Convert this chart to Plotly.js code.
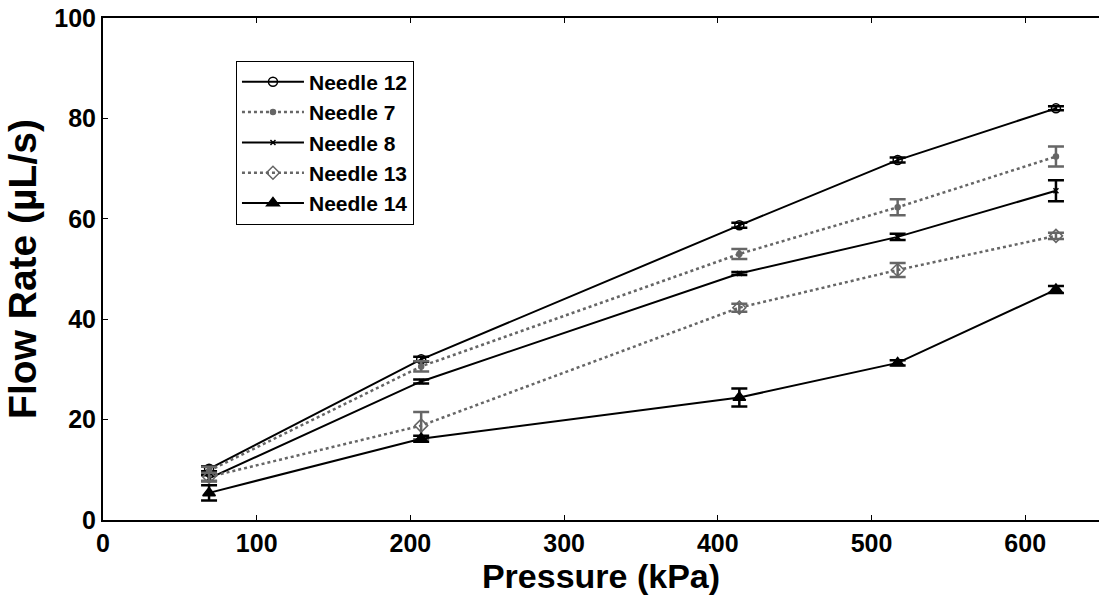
<!DOCTYPE html>
<html>
<head>
<meta charset="utf-8">
<script src="https://cdn.plot.ly/plotly-3.0.1.min.js"></script>
<style>html,body{margin:0;padding:0;background:#fff;}#chart{width:1099px;height:599px;}</style>
</head>
<body>
<div id="chart"></div>
<script>
const pressure = [69, 207, 414, 517, 620];
const needle12 = [10.2, 32.0, 58.7, 71.7, 82.0];
const needle12Err = [0.5, 0.5, 0.5, 0.5, 0.4];
const needle7 = [9.8, 30.6, 53.0, 62.3, 72.4];
const needle7Err = [0.8, 1.0, 1.0, 1.6, 2.0];
const needle8 = [8.3, 27.6, 49.1, 56.4, 65.6];
const needle8Err = [0.6, 0.4, 0.3, 0.6, 2.1];
const needle13 = [8.6, 18.8, 42.3, 49.8, 56.6];
const needle13Err = [0.8, 2.7, 0.8, 1.4, 0.6];
const needle14 = [5.4, 16.2, 24.4, 31.3, 45.9];
const needle14Err = [1.5, 0.6, 1.8, 0.5, 0.7];
const seriesNames = ['Needle 12', 'Needle 7', 'Needle 8', 'Needle 13', 'Needle 14'];

const black = '#000000';
const gray = '#666666';
const fam = 'Liberation Sans, Arial, sans-serif';

function tr(name, y, err, color, dash, symbol, msize, width) {
  return {
    x: pressure, y: y, name: name, type: 'scatter', mode: 'lines+markers',
    line: {color: color, width: width, dash: dash},
    marker: {symbol: symbol, size: msize, color: color, line: {color: color, width: 1.5}},
    error_y: {type: 'data', array: err, visible: true, color: color, thickness: 2.5, width: 8}
  };
}

const data = [
  tr(seriesNames[0], needle12, needle12Err, black, 'solid', 'circle-open', 9, 2),
  tr(seriesNames[1], needle7, needle7Err, gray, 'dot', 'circle', 5, 2.5),
  tr(seriesNames[2], needle8, needle8Err, black, 'solid', 'x-thin-open', 5, 2),
  tr(seriesNames[3], needle13, needle13Err, gray, 'dot', 'diamond-open', 10, 2.5),
  tr(seriesNames[4], needle14, needle14Err, black, 'solid', 'triangle-up', 11, 2)
];

const tickFont = {family: fam, size: 25, color: '#000', weight: 'bold'};
const layout = {
  width: 1099, height: 599,
  margin: {l: 103, r: 0, t: 18, b: 79},
  paper_bgcolor: '#fff', plot_bgcolor: '#fff',
  font: {family: fam, color: '#000'},
  showlegend: true,
  legend: {
    x: 0.1335, y: 0.915, xanchor: 'left', yanchor: 'top',
    bordercolor: '#000', borderwidth: 1, bgcolor: '#fff',
    font: {family: fam, size: 21, color: '#000', weight: 'bold'},
    itemwidth: 62, tracegroupgap: 0
  },
  xaxis: {
    range: [0, 648], tickvals: [0, 100, 200, 300, 400, 500, 600],
    ticks: 'inside', ticklen: 5, tickwidth: 1, tickcolor: '#000',
    showline: true, linecolor: '#000', linewidth: 2, mirror: 'ticks',
    showgrid: false, zeroline: false,
    tickfont: tickFont,
    title: {text: 'Pressure (kPa)', standoff: 6,
      font: {family: fam, size: 34, color: '#000', weight: 'bold'}}
  },
  yaxis: {
    range: [0, 100], tickvals: [0, 20, 40, 60, 80, 100],
    ticks: 'inside', ticklen: 5, tickwidth: 1, tickcolor: '#000',
    showline: true, linecolor: '#000', linewidth: 2, mirror: false,
    showgrid: false, zeroline: false,
    tickfont: tickFont,
    title: {text: 'Flow Rate (µL/s)', standoff: 6,
      font: {family: fam, size: 39, color: '#000', weight: 'bold'}}
  }
};

Plotly.newPlot('chart', data, layout, {displayModeBar: false, staticPlot: true});
</script>
</body>
</html>
